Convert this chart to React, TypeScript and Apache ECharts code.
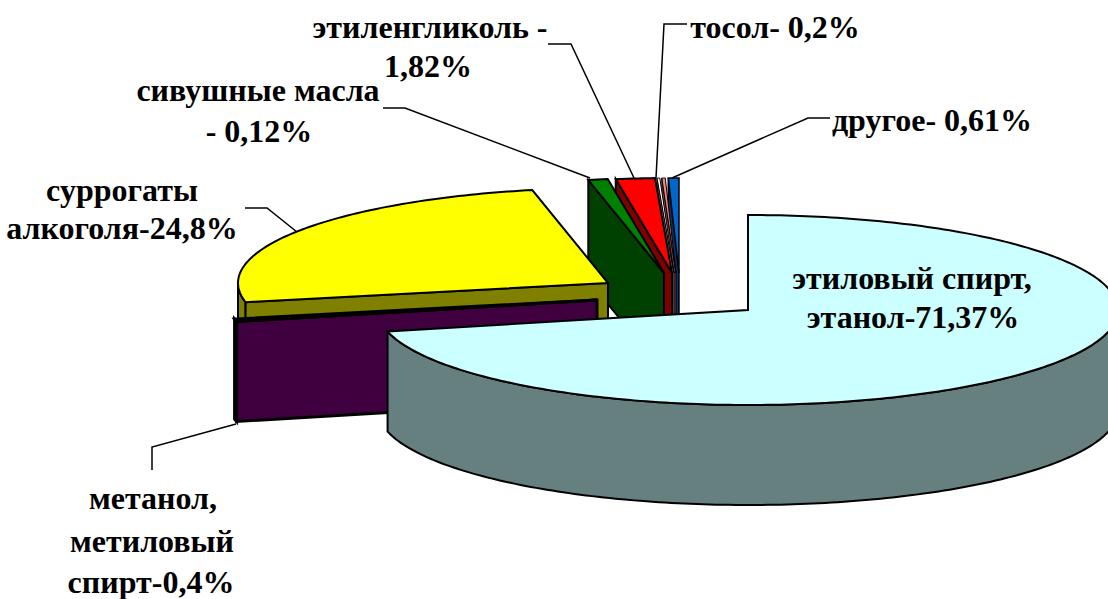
import React, { useEffect, useRef } from "react";
import * as echarts from "echarts";

const sliceNames = ["этиловый спирт", "метанол", "суррогаты алкоголя", "сивушные масла", "этиленгликоль", "тосол", "прочее", "другое"];
const sliceShares = [71.37, 0.4, 24.95, 0.85, 1.7, 0.12, 0.15, 0.46];
const topColors = ["#CCFFFF", "#660066", "#FFFF00", "#008000", "#FF0000", "#FFFFFF", "#FF8080", "#0066CC"];
const wallColors = ["#668080", "#400040", "#808000", "#004000", "#800000", "#808080", "#804040", "#003366"];
const labelTexts = [
  ["этиленгликоль -", 430, 27], ["1,82%", 428, 66],
  ["сивушные масла", 258, 90], ["- 0,12%", 259, 131],
  ["тосол- 0,2%", 775, 27],
  ["другое- 0,61%", 932, 120],
  ["суррогаты", 122, 190], ["алкоголя-24,8%", 122, 228],
  ["этиловый спирт,", 912, 278], ["этанол-71,37%", 913, 317],
  ["метанол,", 153, 498], ["метиловый", 152, 541], ["спирт-0,4%", 151, 582],
] as [string, number, number][];
const leaderLines = [
  [[548, 44], [571, 44], [634, 178]],
  [[687, 24], [664, 24], [656, 178]],
  [[383, 108], [405, 108], [590, 178]],
  [[830, 118], [808, 118], [672, 178]],
  [[245, 208], [267, 208], [297, 232]],
  [[236, 424], [152, 447], [152, 470]],
];

const sliceCentres = [[748, 310], [597, 300], [608, 283], [664, 273], [672, 273], [674, 273], [676, 273], [679, 273]];
const strokeWidths = [2, 3, 2, 2, 2, 1, 1, 1.5];
const RX = 370;
const RY = 95;
const DEPTH = 100;

function rimPoint(c: number[], deg: number, dy = 0) {
  const t = (deg * Math.PI) / 180;
  return [c[0] + RX * Math.sin(t), c[1] - RY * Math.cos(t) + dy];
}
function arc(c: number[], a: number, b: number, dy = 0) {
  const pts: number[][] = [];
  const n = Math.max(2, Math.ceil(Math.abs(b - a)));
  for (let i = 0; i <= n; i++) pts.push(rimPoint(c, a + ((b - a) * i) / n, dy));
  return pts;
}

const total = sliceShares.reduce((s, v) => s + v, 0);

export default function App() {
  const ref = useRef<HTMLDivElement>(null);
  useEffect(() => {
    document.body.style.margin = "0";
    const chart = echarts.init(ref.current!, undefined, { renderer: "svg" });
    const renderItem = (params: any, api: any) => {
      const i = params.dataIndex;
      let before = 0;
      for (let k = 0; k < i; k++) before += sliceShares[k];
      const a = (before / total) * 360;
      const b = a + (api.value(0) / total) * 360;
      const c = sliceCentres[i];
      const apex = c;
      const z = (sliceShares.length - i) * 10;
      const stroke = { stroke: "#000", lineWidth: strokeWidths[i], lineJoin: "miter" };
      const children: any[] = [];
      const visA = Math.max(a, 90);
      const visB = Math.min(b, 270);
      if (visB > visA) {
        children.push({
          type: "polygon", z2: z,
          shape: { points: [...arc(c, visA, visB), ...arc(c, visB, visA, DEPTH)] },
          style: { fill: wallColors[i], ...stroke },
        });
      }
      if (Math.sin((a * Math.PI) / 180) < -0.001) {
        const rim = rimPoint(c, a);
        children.push({
          type: "polygon", z2: z + 1,
          shape: { points: [apex, rim, [rim[0], rim[1] + DEPTH], [apex[0], apex[1] + DEPTH]] },
          style: { fill: wallColors[i], ...stroke },
        });
      }
      children.push({
        type: "polygon", z2: z + 2,
        shape: { points: [apex, ...arc(c, a, b)] },
        style: { fill: topColors[i], ...stroke },
      });
      return { type: "group", children };
    };
    chart.setOption({
      animation: false,
      backgroundColor: "#fff",
      series: [{
        type: "custom",
        coordinateSystem: "none",
        silent: true,
        z: 1,
        renderItem,
        data: sliceShares.map((v, i) => ({ name: sliceNames[i], value: [v] })),
      }],
      graphic: {
        elements: [
          ...leaderLines.map((pts) => ({
            type: "polyline", z: 50, shape: { points: pts },
            style: { stroke: "#000", lineWidth: 1.5, fill: "none" },
          })),
          ...labelTexts.map(([text, x, y]) => ({
            type: "text", z: 60, x, y,
            style: {
              text, fill: "#000", align: "center", verticalAlign: "middle",
              font: 'bold 32px "Liberation Serif", serif',
            },
          })),
        ],
      },
    });
    return () => chart.dispose();
  }, []);
  return <div ref={ref} style={{ width: 1108, height: 599 }} />;
}
